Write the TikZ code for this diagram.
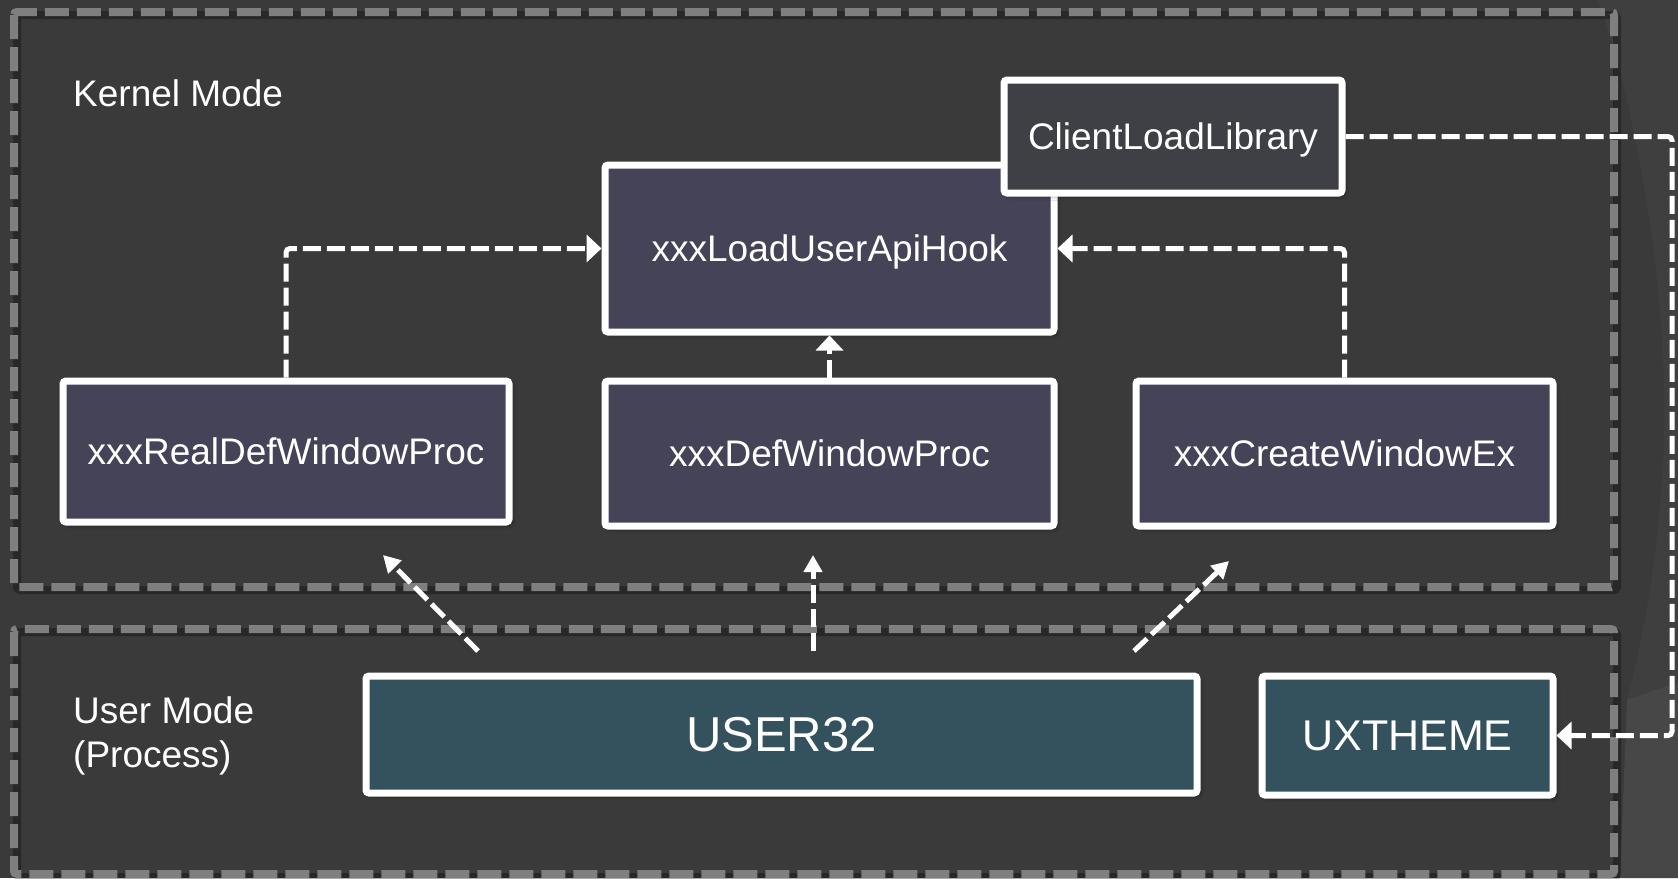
\documentclass[tikz,border=0pt]{standalone}
\usepackage{fontspec}
\setmainfont{Liberation Sans}
\usetikzlibrary{arrows.meta,shadows.blur}

\definecolor{bgcol}{HTML}{3A3A3A}
\definecolor{bgright}{HTML}{3F3F3F}
\definecolor{bgcorner}{HTML}{474747}
\definecolor{framecol}{HTML}{7F7F7F}
\definecolor{kfill}{HTML}{454358}
\definecolor{cfill}{HTML}{3E4045}
\definecolor{ufill}{HTML}{33525E}

\tikzset{
  frame/.style={draw=framecol, line width=8pt, dash pattern=on 24pt off 8pt, rounded corners=3pt},
  frameshadow/.style={draw=black, opacity=0.3, line width=8pt, rounded corners=3pt},
  fbox/.style={draw=white, line width=7pt, rounded corners=3pt, inner sep=0pt, outer sep=3.5pt,
    text=white, font=\fontsize{37}{44}\selectfont, text height=33.5pt, text depth=7.8pt,
    blur shadow={shadow xshift=3pt, shadow yshift=-3pt, shadow blur radius=4pt, shadow opacity=45}},
  kbox/.style={fbox, fill=kfill},
  cbox/.style={fbox, fill=cfill},
  ubox/.style={fbox, fill=ufill},
  conn/.style={draw=white, line width=5pt, dash pattern=on 18pt off 6pt, rounded corners=4pt,
    -{Triangle[length=15pt, width=27pt]}},
  uconn/.style={draw=white, line width=5pt, dash pattern=on 18pt off 6pt,
    -{Triangle[length=17pt, width=18pt]}},
  lbl/.style={text=white, font=\fontsize{37}{44}\selectfont, inner sep=0pt}
}

\begin{document}
\begin{tikzpicture}[x=1pt, y=-1pt]
\useasboundingbox (0,0) rectangle (1678,878);
% slide background with the curved band on the right
\fill[bgcol] (0,0) rectangle (1678,878);
\fill[bgright] (1598,0) .. controls (1650,150) and (1672,350) .. (1662,480)
  .. controls (1655,580) and (1640,650) .. (1627,700) -- (1678,682) -- (1678,0) -- cycle;
\fill[bgcorner] (1627,700) -- (1678,682) -- (1678,878) -- (1620,878) -- cycle;

% mode frames
\draw[frameshadow] (17,15) rectangle (1617,590);
\draw[frameshadow] (17,632) rectangle (1617,877);
\draw[frame] (14,12) rectangle (1614,587);
\draw[frame] (14,629) rectangle (1614,874);

% frame captions
\node[lbl, anchor=base west] (kmode) at (73,106) {Kernel Mode};
\node[lbl, anchor=base west] (umode1) at (73,723) {User Mode};
\node[lbl, anchor=base west] (umode2) at (73,767) {(Process)};

% kernel functions
\node[kbox, minimum width=449pt, minimum height=167pt] (loadhook) at (829.5,248.5) {xxxLoadUserApiHook};
\node[kbox, minimum width=446pt, minimum height=141pt] (realdef) at (286,451.5) {xxxRealDefWindowProc};
\node[kbox, minimum width=449pt, minimum height=145pt] (defwin) at (829.5,453.5) {xxxDefWindowProc};
\node[kbox, minimum width=417pt, minimum height=145pt] (createwin) at (1344.5,453.5) {xxxCreateWindowEx};
\node[cbox, minimum width=338pt, minimum height=113pt] (clientload) at (1173,136.5) {ClientLoadLibrary};

% user-mode modules
\node[ubox, minimum width=831pt, minimum height=117pt, font=\fontsize{49}{58}\selectfont,
  text height=44.3pt, text depth=10.4pt] (user32) at (781.5,734.5) {USER32};
\node[ubox, minimum width=291pt, minimum height=119pt, font=\fontsize{43}{50}\selectfont,
  text height=38.9pt, text depth=9.1pt] (uxtheme) at (1407.5,735.5) {UXTHEME};

% kernel call paths
\draw[conn] (realdef.north) |- (loadhook.west);
\draw[conn] (createwin.north) |- (loadhook.east);
\draw[conn] (defwin.north) -- (loadhook.south);
\coordinate (rbend) at (1672,400);
\draw[conn] (clientload.east) -| (rbend) |- (uxtheme.east);

% calls from USER32 into the kernel
\coordinate (ua1) at (478,651);
\coordinate (ua1t) at (383,555);
\coordinate (ua2) at (813,651);
\coordinate (ua2t) at (813,555);
\coordinate (ua3) at (1134,651);
\coordinate (ua3t) at (1229,561);
\draw[uconn] (ua1) -- (ua1t);
\draw[uconn] (ua2) -- (ua2t);
\draw[uconn] (ua3) -- (ua3t);
\end{tikzpicture}
\end{document}
